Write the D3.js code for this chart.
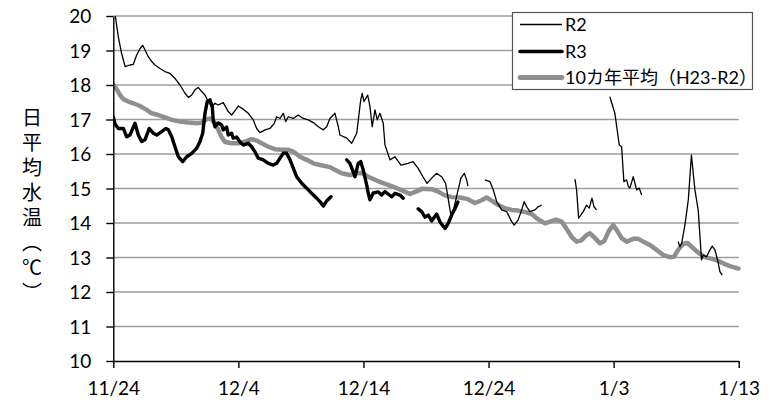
<!DOCTYPE html>
<html><head><meta charset="utf-8">
<script src="https://cdn.jsdelivr.net/npm/d3@7"></script>
<style>body{margin:0;background:#fff}svg{display:block}</style>
</head><body><svg id="c" width="773" height="403"></svg>
<script>
// ---- data (day offset from 11/24, daily mean water temperature °C) ----
const xTicks = [0, 10, 20, 30, 40, 50];
const xTickLabels = ["11/24", "12/4", "12/14", "12/24", "1/3", "1/13"];
const yTicks = [10, 11, 12, 13, 14, 15, 16, 17, 18, 19, 20];
const seriesNames = ["R2", "R3", "10カ年平均（H23-R2）"];
const yTitle = "日平均水温（℃）";

const r2 = [
[0,20.5],[0.16,20.0],[0.4,19.4],[0.66,18.92],[0.95,18.53],[1.33,18.58],[1.6,18.6],[1.87,18.87],[2.13,19.05],[2.35,19.15],[2.53,19.02],[2.8,18.82],[3.07,18.68],[3.33,18.58],[3.73,18.48],[4.13,18.39],[4.53,18.34],[4.93,18.19],[5.33,18.0],[5.73,17.76],[6.0,17.64],[6.27,17.71],[6.53,17.86],[6.79,17.93],[7.07,17.81],[7.33,17.71],[7.59,17.52],[7.87,17.37],[8.13,17.47],[8.39,17.42],[8.79,17.49],[9.19,17.23],[9.46,17.13],[9.78,17.28],[9.99,17.39],[10.39,17.30],[10.79,17.18],[11.19,16.99],[11.46,16.74],[11.73,16.62],[12.13,16.70],[12.53,16.74],[12.87,16.89],[13.06,17.08],[13.33,17.03],[13.59,17.18],[13.78,16.94],[13.99,17.08],[14.39,17.03],[14.79,17.13],[15.19,17.03],[15.59,16.99],[15.99,16.91],[16.39,16.79],[16.79,16.70],[17.06,16.79],[17.32,17.03],[17.72,17.18],[17.99,16.79],[18.12,16.55],[18.66,16.46],[19.06,16.31],[19.46,16.60],[19.78,17.57],[19.90,17.76],[20.04,17.52],[20.34,17.71],[20.52,17.37],[20.70,16.79],[20.92,17.28],[21.10,16.99],[21.32,17.18],[21.58,16.89],[21.72,16.26],[22.12,15.83],[22.52,15.92],[23.00,15.68],[23.56,15.73],[23.96,15.78],[24.36,15.59],[24.76,15.34],[25.08,15.15],[25.45,15.30],[25.85,15.44],[26.25,15.34],[26.57,15.15],[26.79,14.67],[26.99,14.23],[27.23,14.43],[27.47,14.81],[27.79,15.30],[28.06,15.44],[28.25,15.25],[28.35,15.07],
[28.9,null],
[29.71,15.25],[30.11,15.20],[30.38,14.96],[30.65,14.62],[31.05,14.38],[31.45,14.33],[31.85,14.04],[32.05,13.94],[32.37,14.09],[32.65,14.38],[32.85,14.62],[33.05,14.47],[33.31,14.33],[33.71,14.38],[33.97,14.47],[34.24,14.52],
[35.5,null],
[36.91,15.27],[37.04,14.96],[37.20,14.14],[37.57,14.33],[37.84,14.52],[38.05,14.43],[38.27,14.72],[38.43,14.47],[38.64,14.38],
[39.2,null],
[39.70,17.66],[40.10,17.18],[40.45,16.26],[40.64,16.21],[40.82,15.20],[41.04,15.25],[41.17,15.07],[41.30,15.01],[41.57,15.34],[41.84,14.96],[42.05,15.01],[42.24,14.81],
[43.5,null],
[45.16,13.46],[45.30,13.31],[45.44,13.41],[45.70,13.94],[45.97,14.67],[46.22,15.97],[46.50,14.96],[46.76,14.38],[47.03,12.93],[47.16,13.07],[47.43,13.02],[47.70,13.22],[47.88,13.33],[48.10,13.22],[48.31,12.93],[48.50,12.59],[48.68,12.49]
];

const r3 = [
[0,17.07],[0.14,16.87],[0.40,16.74],[0.80,16.74],[1.07,16.50],[1.33,16.55],[1.73,16.89],[2.00,16.55],[2.27,16.36],[2.53,16.41],[2.88,16.74],[3.20,16.60],[3.47,16.55],[3.87,16.65],[4.19,16.74],[4.40,16.70],[4.67,16.50],[4.93,16.21],[5.20,15.92],[5.55,15.78],[5.87,15.92],[6.27,16.02],[6.67,16.17],[6.93,16.36],[7.15,16.60],[7.33,17.18],[7.51,17.52],[7.73,17.57],[7.91,17.37],[7.99,16.99],[8.13,16.79],[8.39,16.90],[8.66,16.84],[8.79,16.70],[9.06,16.78],[9.19,16.55],[9.46,16.60],[9.59,16.46],[9.86,16.49],[10.13,16.35],[10.39,16.26],[10.79,16.31],[11.06,16.21],[11.33,16.06],[11.59,15.88],[11.99,15.83],[12.39,15.73],[12.79,15.68],[13.06,15.73],[13.33,15.88],[13.59,16.02],[13.86,16.02],[14.13,15.83],[14.39,15.59],[14.66,15.34],[15.06,15.15],[15.46,15.01],[15.86,14.86],[16.26,14.72],[16.52,14.62],[16.79,14.49],[17.06,14.64],[17.40,14.76],
[18.0,null],
[18.66,15.83],[18.92,15.73],[19.18,15.48],[19.32,15.34],[19.58,15.73],[19.78,15.78],[19.98,15.54],[20.26,15.10],[20.38,14.87],[20.52,14.67],[20.78,14.87],[21.18,14.90],[21.45,14.81],[21.72,14.91],[21.98,14.84],[22.25,14.76],[22.52,14.86],[22.92,14.81],[23.18,14.72],
[23.8,null],
[24.38,14.41],[24.65,14.33],[24.92,14.17],[25.18,14.23],[25.45,14.06],[25.85,14.26],[26.12,14.03],[26.52,13.84],[26.79,14.0],[27.05,14.23],[27.31,14.41],[27.55,14.61]
];

const avg10 = [
[0.00,18.00],[0.27,17.88],[0.54,17.71],[0.80,17.59],[1.20,17.52],[1.60,17.47],[2.13,17.39],[2.67,17.28],[3.07,17.18],[3.60,17.13],[4.13,17.06],[4.67,16.99],[5.33,16.94],[6.00,16.91],[6.67,16.89],[7.07,16.91],[7.47,17.01],[7.79,17.03],[8.13,16.89],[8.39,16.70],[8.66,16.49],[8.93,16.35],[9.46,16.31],[9.99,16.31],[10.53,16.36],[11.06,16.43],[11.46,16.39],[11.86,16.31],[12.39,16.21],[12.93,16.14],[13.46,16.12],[13.99,16.12],[14.39,16.07],[14.92,15.92],[15.46,15.83],[15.99,15.73],[16.52,15.68],[17.32,15.62],[17.72,15.54],[18.26,15.44],[18.92,15.39],[19.46,15.44],[19.88,15.45],[20.38,15.34],[21.06,15.23],[21.85,15.12],[22.52,15.03],[23.18,14.93],[23.72,14.84],[24.20,14.91],[24.68,14.99],[25.45,14.98],[25.98,14.91],[26.51,14.80],[27.07,14.75],[27.71,14.74],[28.27,14.70],[28.91,14.58],[29.45,14.66],[29.85,14.74],[30.25,14.65],[30.78,14.52],[31.31,14.43],[31.85,14.38],[32.37,14.36],[32.91,14.32],[33.45,14.26],[33.87,14.13],[34.51,13.99],[34.91,14.04],[35.39,14.10],[35.84,14.04],[36.19,13.86],[36.64,13.60],[37.04,13.46],[37.39,13.49],[37.84,13.65],[38.11,13.70],[38.51,13.56],[38.91,13.41],[39.26,13.48],[39.62,13.77],[39.97,13.94],[40.24,13.80],[40.64,13.56],[41.04,13.46],[41.57,13.54],[41.97,13.54],[42.37,13.46],[42.91,13.36],[43.44,13.22],[43.97,13.07],[44.50,13.01],[44.82,13.02],[45.16,13.22],[45.56,13.39],[45.90,13.42],[46.30,13.29],[46.76,13.14],[47.30,13.01],[47.86,12.96],[48.38,12.90],[48.76,12.83],[49.30,12.75],[49.98,12.68]
];

// ---- layout ----
const svg = d3.select("#c");
const L = 113.3, R = 738.7, T = 16, B = 361;
const x = d3.scaleLinear().domain([0, 50]).range([L, R]);
const y = d3.scaleLinear().domain([10, 20]).range([B, T]);
const fontLatin = "Lato, 'Noto Sans CJK JP', sans-serif";

svg.append("defs").append("clipPath").attr("id", "plot")
  .append("rect").attr("x", L).attr("y", T).attr("width", R - L + 3).attr("height", B - T);

// gridlines
svg.append("g").selectAll("line").data(yTicks.filter(v => v > 10)).join("line")
  .attr("x1", L).attr("x2", R).attr("y1", d => y(d)).attr("y2", d => y(d))
  .attr("stroke", "#9d9d9d").attr("stroke-width", 1.3);

// series
const line = d3.line().defined(d => d[1] != null).x(d => x(d[0])).y(d => y(d[1]));
const g = svg.append("g").attr("clip-path", "url(#plot)");
g.append("path").datum(avg10).attr("d", line).attr("fill", "none")
  .attr("stroke", "#8f8f8f").attr("stroke-width", 4.5).attr("stroke-linejoin", "round").attr("stroke-linecap", "round");
g.append("path").datum(r3).attr("d", line).attr("fill", "none")
  .attr("stroke", "#000").attr("stroke-width", 3.4).attr("stroke-linejoin", "round").attr("stroke-linecap", "round");
g.append("path").datum(r2).attr("d", line).attr("fill", "none")
  .attr("stroke", "#000").attr("stroke-width", 1.3).attr("stroke-linejoin", "round");

// axes
const yAxis = svg.append("g").attr("transform", `translate(${L},0)`)
  .call(d3.axisLeft(y).tickValues(yTicks).tickSize(7).tickSizeOuter(0).tickPadding(15));
const xAxis = svg.append("g").attr("transform", `translate(0,${B})`)
  .call(d3.axisBottom(x).tickValues(xTicks).tickFormat((d, i) => xTickLabels[i]).tickSize(7).tickSizeOuter(0));
[yAxis, xAxis].forEach(a => {
  a.select(".domain").attr("stroke", "#000").attr("stroke-width", 1.4);
  a.selectAll(".tick line").attr("stroke", "#000").attr("stroke-width", 1.4);
  a.selectAll("text").attr("fill", "#000").style("font-family", fontLatin).style("font-size", "19px");
});
yAxis.selectAll("text").attr("dy", "0.36em");
xAxis.selectAll("text").attr("y", 34).attr("dy", 0);

// y title (vertical)
svg.append("text").attr("x", 32).attr("y", 207)
  .style("writing-mode", "vertical-rl").style("font-family", "'Noto Sans CJK JP', sans-serif")
  .style("font-size", "20px").style("letter-spacing", "5px").attr("text-anchor", "middle")
  .text(yTitle);

// legend
const lg = svg.append("g");
lg.append("rect").attr("x", 512.5).attr("y", 12.5).attr("width", 240).attr("height", 77)
  .attr("fill", "#fff").attr("stroke", "#555").attr("stroke-width", 1.2);
const styles = [{c: "#000", w: 1.3}, {c: "#000", w: 3.6}, {c: "#8f8f8f", w: 4.8}];
const ly = [24.5, 51.5, 77.5];
seriesNames.forEach((n, i) => {
  lg.append("line").attr("x1", 520).attr("x2", 562).attr("y1", ly[i]).attr("y2", ly[i])
    .attr("stroke", styles[i].c).attr("stroke-width", styles[i].w).attr("stroke-linecap", i ? "round" : "butt");
  lg.append("text").attr("x", 565).attr("y", ly[i] + 6.5).text(n)
    .style("font-family", fontLatin).style("font-size", "18px").attr("fill", "#000");
});
</script></body></html>
